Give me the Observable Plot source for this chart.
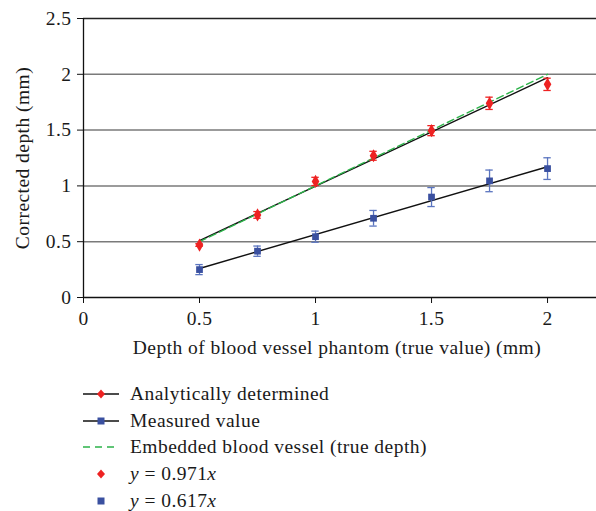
<!DOCTYPE html>
<html>
<head>
<meta charset="utf-8">
<script src="https://cdn.jsdelivr.net/npm/d3@7"></script>
<script src="https://cdn.jsdelivr.net/npm/@observablehq/plot@0.6"></script>
<style>
  body { margin: 0; background: #fff; font-family: "Liberation Serif", "DejaVu Serif", serif; }
  .c text { letter-spacing: 0.45px; }
  #legend { position: relative; margin-left: 83px; margin-top: 16px; font-size: 19.5px; letter-spacing: 0.45px; color: #1a1a1a; }
  .row { height: 26.6px; display: flex; align-items: center; }
  .row svg { width: 36px; height: 14px; margin-right: 11px; flex: none; }
  i { font-style: italic; }
</style>
</head>
<body>
<div id="chart"></div>
<div id="legend"></div>
<script>
// Data
const depths = [0.5, 0.75, 1, 1.25, 1.5, 1.75, 2];
const analytic = [0.47, 0.74, 1.04, 1.27, 1.495, 1.74, 1.91];
const analyticErr = [0.012, 0.03, 0.037, 0.04, 0.045, 0.055, 0.055];
const measured = [0.25, 0.415, 0.545, 0.71, 0.9, 1.045, 1.155];
const measuredErr = [0.045, 0.046, 0.05, 0.07, 0.085, 0.097, 0.097];
const fitX = [0.5, 2];
const fitAnalytic = [0.51, 1.97];
const fitMeasured = [0.26, 1.172];
const trueDepth = [0.5, 2];
const xTicks = [0, 0.5, 1, 1.5, 2];
const yTicks = [0, 0.5, 1, 1.5, 2, 2.5];
const gridY = [0.5, 1, 1.5, 2];
const legendLabels = ["Analytically determined", "Measured value", "Embedded blood vessel (true depth)", "y = 0.971x", "y = 0.617x"];

const red = "#ee2222", blue = "#3a50a0", blueErr = "#5a74bf", green = "#2db34a";

const A = depths.map((x, i) => ({x, y: analytic[i], e: analyticErr[i]}));
const M = depths.map((x, i) => ({x, y: measured[i], e: measuredErr[i]}));
const fitA = fitX.map((x, i) => ({x, y: fitAnalytic[i]}));
const fitM = fitX.map((x, i) => ({x, y: fitMeasured[i]}));
const truth = fitX.map((x, i) => ({x, y: trueDepth[i]}));
const cap = 0.016;
const fs = 19.5;

const chart = Plot.plot({
  width: 596,
  height: 365,
  marginLeft: 83,
  marginRight: 0,
  marginTop: 18,
  marginBottom: 68,
  className: "c",
  style: {fontFamily: "Liberation Serif, DejaVu Serif, serif", fontSize: fs + "px", color: "#1a1a1a", background: "#fff"},
  x: {domain: [0, 2.211]},
  y: {domain: [0, 2.5]},
  marks: [
    Plot.ruleY(gridY, {stroke: "#7a7a7a", strokeWidth: 1.5}),
    Plot.ruleY([2.5], {stroke: "#222", strokeWidth: 1.5}),
    Plot.ruleY([0], {stroke: "#111", strokeWidth: 1.3}),
    Plot.ruleX([0], {stroke: "#111", strokeWidth: 1.3}),
    Plot.axisX({ticks: xTicks, tickSize: 6, tickPadding: 8, label: null, tickFormat: d => String(d), stroke: "#111", fontSize: fs}),
    Plot.axisY({ticks: yTicks, tickSize: 6, tickPadding: 6, label: null, tickFormat: d => String(d), stroke: "#111", fontSize: fs}),
    Plot.text(["Corrected depth (mm)"], {frameAnchor: "left", textAnchor: "middle", rotate: -90, dx: -61, fontSize: fs, fill: "#1a1a1a"}),
    Plot.text(["Depth of blood vessel phantom (true value) (mm)"], {frameAnchor: "bottom", dy: 56, dx: -3, fontSize: fs, fill: "#1a1a1a"}),
    Plot.line(fitA, {x: "x", y: "y", stroke: "#111", strokeWidth: 1.4}),
    Plot.line(fitM, {x: "x", y: "y", stroke: "#111", strokeWidth: 1.4}),
    Plot.line(truth, {x: "x", y: "y", stroke: green, strokeWidth: 1.4, strokeDasharray: "7,4"}),
    // error bars
    Plot.ruleX(A, {x: "x", y1: d => d.y - d.e, y2: d => d.y + d.e, stroke: red, strokeWidth: 1.3}),
    Plot.ruleY(A, {y: d => d.y - d.e, x1: d => d.x - cap, x2: d => d.x + cap, stroke: red, strokeWidth: 1.3}),
    Plot.ruleY(A, {y: d => d.y + d.e, x1: d => d.x - cap, x2: d => d.x + cap, stroke: red, strokeWidth: 1.3}),
    Plot.ruleX(M, {x: "x", y1: d => d.y - d.e, y2: d => d.y + d.e, stroke: blueErr, strokeWidth: 1.3}),
    Plot.ruleY(M, {y: d => d.y - d.e, x1: d => d.x - cap, x2: d => d.x + cap, stroke: blueErr, strokeWidth: 1.3}),
    Plot.ruleY(M, {y: d => d.y + d.e, x1: d => d.x - cap, x2: d => d.x + cap, stroke: blueErr, strokeWidth: 1.3}),
    Plot.dot(A, {x: "x", y: "y", symbol: "diamond", r: 4, fill: red}),
    Plot.dot(M, {x: "x", y: "y", symbol: "square", r: 3.8, fill: blue})
  ]
});
document.getElementById("chart").append(chart);

// Legend
const diamond = c => `<path d="M18,2.5 L22,7 L18,11.5 L14,7 Z" fill="${c}"/>`;
const square = c => `<rect x="14.5" y="3.5" width="7" height="7" fill="${c}"/>`;
const swatches = [
  `<line x1="0" y1="7" x2="36" y2="7" stroke="#111" stroke-width="1.5"/>${diamond(red)}`,
  `<line x1="0" y1="7" x2="36" y2="7" stroke="#111" stroke-width="1.5"/>${square(blue)}`,
  `<line x1="0" y1="7" x2="36" y2="7" stroke="${green}" stroke-width="1.5" stroke-dasharray="7,5"/>`,
  diamond(red),
  square(blue)
];
const fmt = s => s.replace(/^y /, "<i>y</i> ").replace(/x$/, "<i>x</i>");
const legend = document.getElementById("legend");
legendLabels.forEach((lab, i) => {
  const row = document.createElement("div");
  row.className = "row";
  row.innerHTML = `<svg viewBox="0 0 36 14">${swatches[i]}</svg><span>${fmt(lab)}</span>`;
  legend.append(row);
});
</script>
</body>
</html>
